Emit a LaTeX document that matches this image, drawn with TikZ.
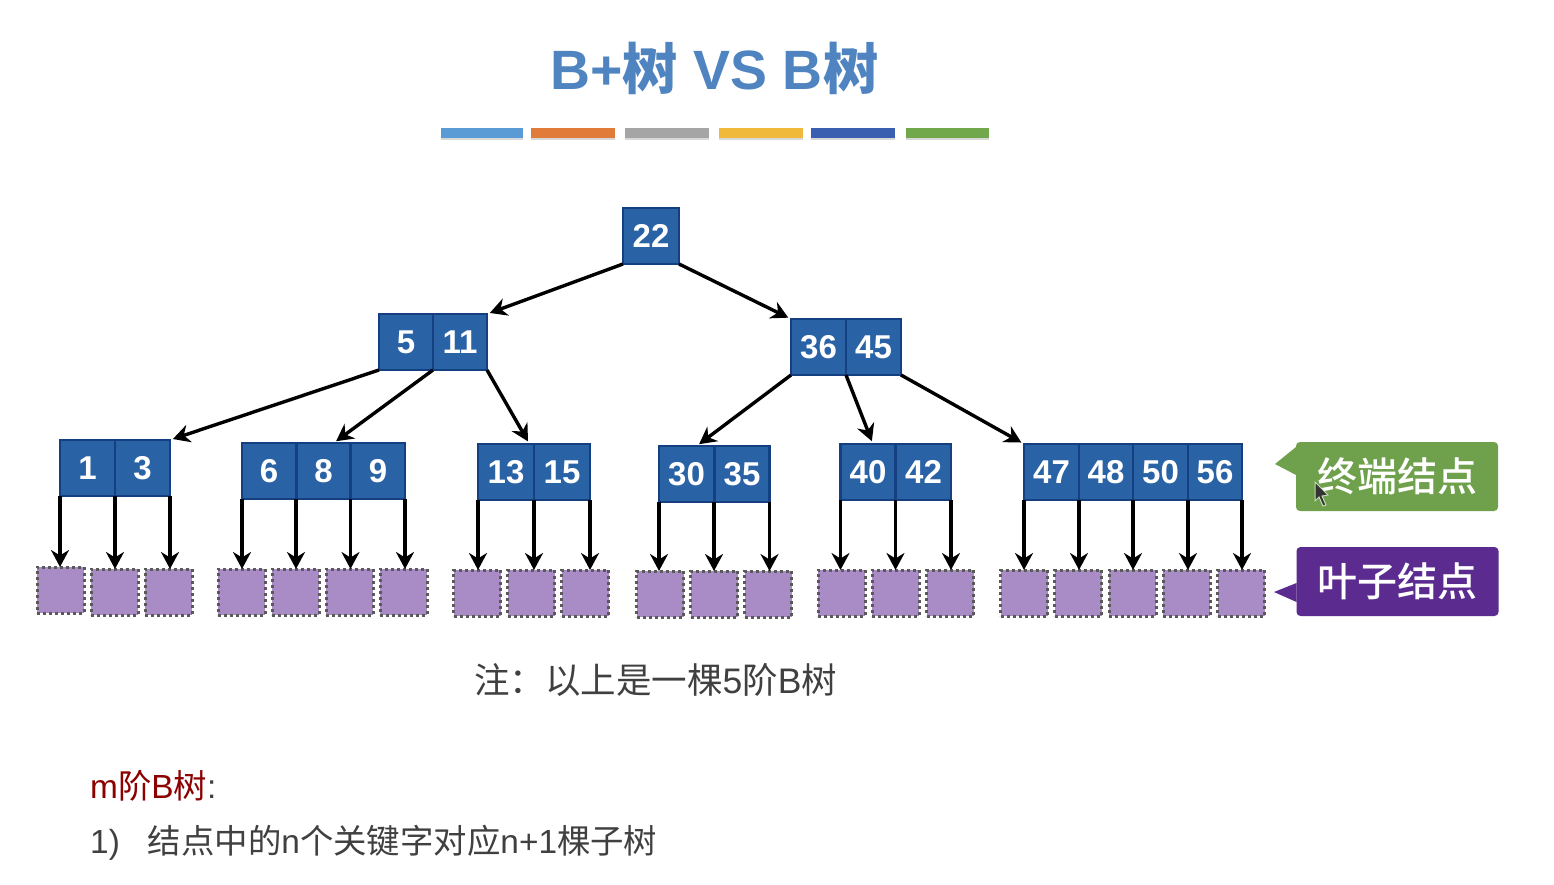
\documentclass[tikz,border=0pt]{standalone}
\usepackage{xcolor}
\usepackage{fontspec}
\setmainfont{Liberation Sans}
\newfontfamily\cjk{Noto Sans CJK SC}
\newfontfamily\cjkmed{Noto Sans CJK SC}[UprightFont=* Medium]
\usetikzlibrary{arrows.meta, shadows}

\definecolor{keyblue}{HTML}{2A62A6}
\definecolor{keyline}{HTML}{143F80}
\definecolor{leafpurple}{HTML}{A98BC6}
\definecolor{titleblue}{HTML}{4F84C0}
\definecolor{tagpurple}{HTML}{5C2B90}
\definecolor{taggreen}{HTML}{6FA04C}

\tikzset{
    keycell/.style={draw=keyline, line width=2.4pt, fill=keyblue, minimum width=#1, minimum height=56pt, inner sep=0pt, outer sep=0pt, text=white, font=\fontsize{33}{33}\selectfont\bfseries},
    leafnode/.style={draw=black!65, line width=3pt, dash pattern=on 3pt off 3pt, fill=leafpurple, minimum width=47pt, minimum height=46pt, inner sep=0pt, outer sep=0pt},
    treelink/.style={line width=3.4pt, -{Stealth[length=17pt, width=18pt]}, shorten >=3pt},
    leaflink/.style={line width=3.4pt, -{Stealth[length=17pt, width=18pt]}},
    tagbox/.style={rounded corners=4pt, minimum width=202pt, minimum height=69pt, inner sep=0pt, outer sep=0pt, text=white, font=\fontsize{40}{40}\selectfont\cjkmed},
    colorbar/.style={minimum height=10pt, inner sep=0pt, outer sep=0pt, drop shadow={shadow xshift=0pt, shadow yshift=-2.5pt, opacity=0.3}},
    bodytext/.style={inner sep=0pt, anchor=west, text=black!75, font=\fontsize{33.4}{33.4}\selectfont}
}

\begin{document}
\begin{tikzpicture}[x=1pt, y=-1pt]
    \useasboundingbox (0, 0) rectangle (1554, 885);
    \fill[white] (0, 0) rectangle (1554, 885);

    % title and colour bars
    \node[inner sep=0pt, text=titleblue, font=\fontsize{55.4}{55.4}\selectfont\bfseries] (title) at (714.5, 68) {B+{\cjkmed 树} VS B{\cjkmed 树}};
    \foreach \x/\w/\c/\n in {482/82/5B9BD5/a, 573/84/E07B39/b, 667/84/A5A5A5/c, 761/84/F0B93A/d, 853/84/3A5FB0/e, 947.5/83/70A84B/f} {
        \definecolor{barcolor}{HTML}{\c}
        \node[colorbar, fill=barcolor, minimum width=\w pt] (bar\n) at (\x, 133) {};
    }

    % key cells
    \foreach \x/\y/\w/\key in {651/236/56/22,
        406/342/54/5, 460/342/54/11, 818.5/347/55/36, 873.5/347/55/45,
        87.5/468/55/1, 142.5/468/55/3,
        269/471/54/6, 323.5/471/54/8, 378/471/54/9,
        506/472/56/13, 562/472/56/15,
        686.5/474/55/30, 742/474/55/35,
        868/472/55/40, 923.5/472/55/42,
        1051.5/472/55/47, 1106/472/54/48, 1160.5/472/55/50, 1215/472/54/56} {
        \node[keycell=\w pt] (k\key) at (\x, \y) {\key};
    }

    % leaf nodes
    \foreach \x/\y/\n in {60.5/590/1, 114.5/592/2, 168.5/592/3,
        241.5/592/4, 295.5/592/5, 349.5/592/6, 403.5/592/7,
        477/593/8, 531/593/9, 585/593/10,
        660/594/11, 714/594/12, 768/594/13,
        841.5/593/14, 895.5/593/15, 950/593/16,
        1024/593/17, 1078/593/18, 1132.5/593/19, 1186.5/593/20, 1241/593/21} {
        \node[leafnode] (l\n) at (\x, \y) {};
    }

    % links between keys
    \draw[treelink] (k22.south west) -- (k11.north east);
    \draw[treelink] (k22.south east) -- (k36.north west);
    \draw[treelink] (k5.south west) -- (k3.north east);
    \draw[treelink] (k5.south east) -- (k8.70);
    \draw[treelink] (k11.south east) -- (k13.50);
    \draw[treelink] (k36.south west) -- (k30.70);
    \draw[treelink] (k45.south west) -- (k40.80);
    \draw[treelink] (k45.south east) -- (k47.north west);

    % links to leaves
    \foreach \from/\to in {k1.south west/l1, k1.south east/l2, k3.south east/l3,
        k6.south west/l4, k6.south east/l5, k8.south east/l6, k9.south east/l7,
        k13.south west/l8, k13.south east/l9, k15.south east/l10,
        k30.south west/l11, k30.south east/l12, k35.south east/l13,
        k40.south west/l14, k40.south east/l15, k42.south east/l16,
        k47.south west/l17, k47.south east/l18, k48.south east/l19, k50.south east/l20, k56.south east/l21} {
        \draw[leaflink] (\from) -- (\from |- \to.north);
    }

    % tags on the right
    \node[tagbox, fill=taggreen] (tagend) at (1397, 476.5) {终端结点};
    \node[tagbox, fill=tagpurple] (tagleaf) at (1397.5, 581.5) {叶子结点};
    \coordinate (tipend) at (1275, 464);
    \coordinate (tipleaf) at (1274, 592);
    \fill[taggreen] (tipend) -- (tagend.west |- 0, 447) -- (tagend.west |- 0, 475) -- cycle;
    \fill[tagpurple] (tipleaf) -- (tagleaf.west |- 0, 583) -- (tagleaf.west |- 0, 602) -- cycle;
    % mouse pointer
    \fill[black!80, draw=taggreen!40, line width=1pt] (1315, 482) -- (1315, 501) -- (1319, 497) -- (1323, 506) -- (1326, 505) -- (1322, 496) -- (1328, 495) -- cycle;

    % notes
    \node[bodytext, font=\fontsize{35.5}{35.5}\selectfont] (note) at (474, 680) {{\cjk 注：以上是一棵}5{\cjk 阶}B{\cjk 树}};
    \node[bodytext] (head) at (90, 786) {\textcolor{red!55!black}{m{\cjk 阶}B{\cjk 树}}:};
    \node[bodytext] (rule) at (90, 843) {1)\hspace{28pt}{\cjk 结点中的}n{\cjk 个关键字对应}n+1{\cjk 棵子树}};
\end{tikzpicture}
\end{document}
